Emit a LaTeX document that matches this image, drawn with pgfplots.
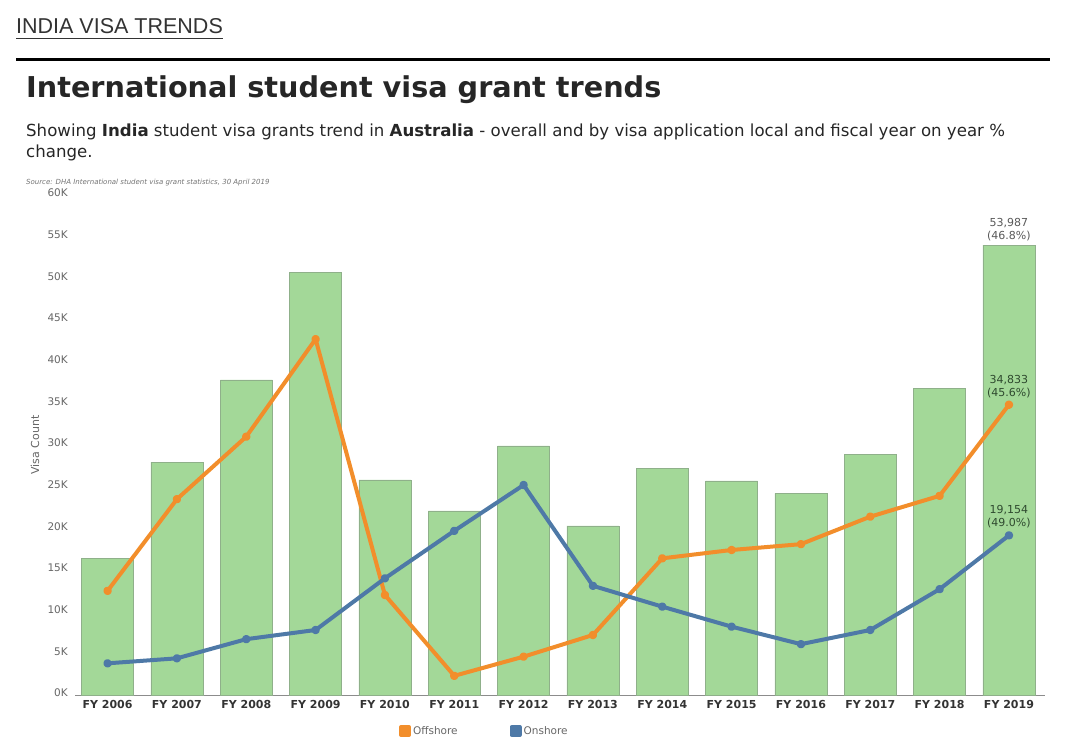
\documentclass[border=0pt]{standalone}
\usepackage{pgfplots}
\pgfplotsset{compat=1.18}
\usepackage{fontspec}
\setmainfont{DejaVu Sans}
\newfontfamily\hdfont{Liberation Sans}
\definecolor{barfill}{HTML}{A3D898}
\definecolor{barline}{HTML}{8FB08A}
\definecolor{offc}{HTML}{F28E2B}
\definecolor{onc}{HTML}{4E79A7}
\definecolor{tickc}{HTML}{666666}
\definecolor{lblc}{HTML}{2F4A2F}
\begin{document}
\begin{tikzpicture}[x=1pt,y=1pt]
\path[use as bounding box] (0,0) rectangle (1080,751);
% header
\node[anchor=base west,inner sep=0pt,text=black!80] at (16,751-34) {\hdfont\fontsize{21.5}{25}\selectfont INDIA VISA TRENDS};
\draw[black!80,line width=0.9pt] (16,751-38) -- (223,751-38);
\draw[black,line width=3pt] (16,751-60) -- (1050,751-60);
\node[anchor=base west,inner sep=0pt,text=black!85] at (26,751-98) {\fontsize{28.7}{33}\selectfont\bfseries International student visa grant trends};
\node[anchor=base west,inner sep=0pt,text=black!85] at (26,751-137) {\fontsize{16.6}{19}\selectfont Showing \textbf{India} student visa grants trend in \textbf{Australia} - overall and by visa application local and fiscal year on year \%};
\node[anchor=base west,inner sep=0pt,text=black!85] at (26,751-158) {\fontsize{16.6}{19}\selectfont change.};
\node[anchor=base west,inner sep=0pt,text=black!55] at (26,751-185) {\fontsize{7}{8}\selectfont\itshape Source: DHA International student visa grant statistics, 30 April 2019};
\node[rotate=90,text=tickc,font=\fontsize{11}{13}\selectfont] at (35,751-445) {Visa Count};
\begin{axis}[
  at={(75pt,56pt)}, anchor=south west,
  width=970pt, height=500pt, scale only axis,
  xmin=-0.47, xmax=13.52, ymin=0, ymax=60000,
  axis y line=none, axis x line*=bottom,
  axis line style={draw=black!45, line width=0.8pt},
  xtick={0,...,13},
  xticklabels={FY 2006,FY 2007,FY 2008,FY 2009,FY 2010,FY 2011,FY 2012,FY 2013,FY 2014,FY 2015,FY 2016,FY 2017,FY 2018,FY 2019},
  x tick label style={font=\fontsize{11}{13}\selectfont\bfseries, text=black!80, yshift=-2pt},
  major tick length=0pt,
  clip=false,
  legend style={at={(0.422,-0.072)}, anchor=center, draw=none, fill=none,
    legend columns=2, font=\fontsize{10.5}{12}\selectfont, text=tickc,
    /tikz/every even column/.append style={column sep=50pt}},
  legend image code/.code={\fill (0pt,-4pt) rectangle (8pt,4pt);},
]
\addplot[ybar, bar width=52pt, fill=barfill, draw=barline, line width=0.5pt, forget plot] coordinates {
(0,16400) (1,27950) (2,37800) (3,50700) (4,25800) (5,22100) (6,29900)
(7,20300) (8,27200) (9,25700) (10,24200) (11,28900) (12,36800) (13,53987)};
\addplot[offc, line width=4pt, mark=*, mark size=2.2pt, line join=round] coordinates {
(0,12500) (1,23500) (2,31000) (3,42700) (4,12000) (5,2300) (6,4600)
(7,7200) (8,16400) (9,17400) (10,18100) (11,21400) (12,23900) (13,34833)};
\addlegendentry{Offshore}
\addplot[onc, line width=4pt, mark=*, mark size=2.2pt, line join=round] coordinates {
(0,3800) (1,4400) (2,6700) (3,7800) (4,14000) (5,19700) (6,25200)
(7,13100) (8,10600) (9,8200) (10,6100) (11,7800) (12,12700) (13,19154)};
\addlegendentry{Onshore}
% y tick labels
\foreach \v/\t in {0/0K,5000/5K,10000/10K,15000/15K,20000/20K,25000/25K,30000/30K,35000/35K,40000/40K,45000/45K,50000/50K,55000/55K,60000/60K}{
  \edef\tmp{\noexpand\node[anchor=east,inner sep=0pt,text=tickc,font=\noexpand\fontsize{10.5}{12}\noexpand\selectfont] at (axis cs:-0.47,\v) [xshift=-7pt,yshift=2pt] {\t};}\tmp
}
\node[anchor=south,align=center,text=black!65,font=\fontsize{11}{13}\selectfont,inner sep=0pt] at (axis cs:13,53987) [yshift=4pt] {53,987\\(46.8\%)};
\node[anchor=south,align=center,text=lblc,font=\fontsize{11}{13}\selectfont,inner sep=0pt] at (axis cs:13,34833) [yshift=7pt] {34,833\\(45.6\%)};
\node[anchor=south,align=center,text=lblc,font=\fontsize{11}{13}\selectfont,inner sep=0pt] at (axis cs:13,19154) [yshift=7pt] {19,154\\(49.0\%)};
\end{axis}
\end{tikzpicture}
\end{document}
